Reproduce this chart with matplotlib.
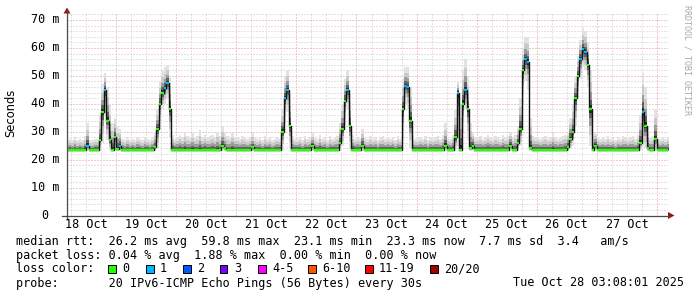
import numpy as np
import matplotlib
matplotlib.use("Agg")
import matplotlib.pyplot as plt
from matplotlib.patches import Polygon, Rectangle

# ---------------- data (hourly bins, hours after 18 Oct 00:00) ----------------
START_HOUR = 4
X_MIN, X_MAX = 4.4, 244.4

med_18 = [23.4, 23.4, 23.4, 23.4, 23.4, 23.4, 23.4, 23.5, 25.0, 23.4, 23.4, 23.4, 23.4, 27.0, 37.0, 45.0, 34.0, 27.0, 23.6, 28.0]
hi_18 = [27.0, 27.5, 27.0, 28.0, 27.0, 27.5, 27.0, 28.5, 33.0, 27.0, 27.0, 27.5, 27.5, 36.0, 47.0, 51.0, 46.0, 40.0, 33.0, 35.0]
lo_18 = [23.1, 23.1, 23.1, 23.1, 23.1, 23.1, 23.1, 23.1, 23.3, 23.1, 23.1, 23.1, 23.1, 23.4, 26.0, 36.0, 27.0, 23.5, 23.2, 24.0]

med_19 = [23.8, 25.0, 23.4, 23.4, 23.4, 23.4, 23.4, 23.4, 23.4, 23.4, 23.4, 23.4, 23.4, 23.4, 23.4, 24.5, 31.0, 40.0, 44.0, 45.5, 47.5, 38.0, 23.4, 23.4]
hi_19 = [32.0, 31.0, 27.5, 27.0, 28.0, 27.0, 27.5, 27.0, 28.0, 27.5, 27.0, 28.0, 27.5, 27.0, 28.0, 30.0, 38.0, 48.0, 52.0, 53.0, 54.0, 50.0, 29.0, 27.5]
lo_19 = [23.2, 23.3, 23.1, 23.1, 23.1, 23.1, 23.1, 23.1, 23.1, 23.1, 23.1, 23.1, 23.1, 23.1, 23.1, 23.2, 24.0, 31.0, 38.0, 40.0, 42.0, 28.0, 23.1, 23.1]

med_20 = [23.4, 23.4, 23.4, 23.4, 23.4, 23.4, 23.4, 23.4, 23.4, 23.4, 23.4, 23.4, 23.4, 23.4, 23.4, 23.4, 23.4, 23.4, 25.0, 24.0, 23.4, 23.4, 23.4, 23.4]
hi_20 = [28.0, 29.0, 28.0, 30.0, 28.5, 28.0, 29.5, 28.0, 28.5, 30.5, 28.0, 29.0, 28.0, 28.5, 29.0, 28.0, 30.0, 28.5, 32.0, 30.0, 28.5, 28.0, 29.5, 28.0]
lo_20 = [23.1, 23.1, 23.1, 23.1, 23.1, 23.1, 23.1, 23.1, 23.1, 23.1, 23.1, 23.1, 23.1, 23.1, 23.1, 23.1, 23.1, 23.1, 23.3, 23.2, 23.1, 23.1, 23.1, 23.1]

med_21 = [23.4, 23.4, 23.4, 23.4, 23.4, 23.4, 24.5, 23.4, 23.4, 23.4, 23.4, 23.4, 23.4, 23.4, 23.4, 23.4, 23.4, 23.4, 30.0, 42.0, 45.0, 32.0, 23.4, 23.4]
hi_21 = [28.0, 27.5, 28.5, 28.0, 27.5, 28.0, 29.5, 28.0, 27.5, 28.0, 27.0, 28.5, 27.5, 28.0, 27.0, 27.5, 28.0, 27.5, 38.0, 50.0, 52.0, 43.0, 28.5, 27.5]
lo_21 = [23.1, 23.1, 23.1, 23.1, 23.1, 23.1, 23.2, 23.1, 23.1, 23.1, 23.1, 23.1, 23.1, 23.1, 23.1, 23.1, 23.1, 23.1, 23.5, 33.0, 37.0, 24.0, 23.1, 23.1]

med_22 = [23.4, 23.4, 23.4, 23.4, 23.4, 23.4, 25.0, 23.4, 23.4, 23.4, 23.4, 23.4, 23.4, 23.4, 23.4, 23.4, 23.4, 26.0, 31.0, 41.0, 45.0, 32.0, 23.5, 23.4]
hi_22 = [27.5, 28.0, 27.0, 28.5, 27.5, 28.0, 29.5, 28.0, 27.5, 29.0, 27.5, 28.0, 27.0, 28.5, 27.5, 28.0, 28.5, 33.0, 40.0, 49.0, 52.0, 44.0, 29.0, 27.5]
lo_22 = [23.1, 23.1, 23.1, 23.1, 23.1, 23.1, 23.3, 23.1, 23.1, 23.1, 23.1, 23.1, 23.1, 23.1, 23.1, 23.1, 23.1, 23.4, 25.0, 32.0, 38.0, 24.0, 23.1, 23.1]

med_23 = [23.4, 23.4, 25.0, 23.4, 23.4, 23.4, 23.4, 23.4, 23.4, 23.4, 23.4, 23.4, 23.4, 23.4, 23.4, 23.4, 23.4, 23.4, 38.0, 46.5, 46.0, 34.0, 23.4, 23.4]
hi_23 = [28.0, 27.5, 31.0, 28.0, 27.5, 28.5, 27.5, 28.0, 27.0, 28.0, 28.5, 27.5, 28.0, 27.5, 28.0, 27.0, 28.5, 27.5, 49.0, 53.0, 53.0, 46.0, 28.5, 27.5]
lo_23 = [23.1, 23.1, 23.3, 23.1, 23.1, 23.1, 23.1, 23.1, 23.1, 23.1, 23.1, 23.1, 23.1, 23.1, 23.1, 23.1, 23.1, 23.1, 27.0, 40.0, 38.0, 24.0, 23.1, 23.1]

med_24 = [23.4, 23.4, 23.4, 23.4, 23.4, 23.4, 23.4, 23.4, 23.4, 23.4, 23.4, 25.0, 23.4, 23.4, 23.4, 28.0, 44.0, 23.6, 40.0, 45.0, 38.0, 24.0, 25.0, 23.4]
hi_24 = [27.5, 28.0, 27.5, 28.5, 27.0, 28.0, 27.5, 28.0, 28.5, 27.5, 29.0, 33.0, 28.0, 27.5, 29.0, 38.0, 48.0, 40.0, 52.0, 56.0, 50.0, 33.0, 30.0, 28.0]
lo_24 = [23.1, 23.1, 23.1, 23.1, 23.1, 23.1, 23.1, 23.1, 23.1, 23.1, 23.1, 23.3, 23.1, 23.1, 23.1, 23.3, 25.0, 23.2, 30.0, 38.0, 27.0, 23.2, 23.3, 23.1]

med_25 = [23.4, 23.4, 23.4, 23.4, 23.4, 23.4, 23.4, 23.4, 23.4, 23.4, 23.4, 23.4, 23.4, 25.0, 23.4, 23.4, 26.0, 31.0, 52.0, 56.0, 55.0, 24.0, 23.4, 23.4]
hi_25 = [28.0, 28.5, 27.5, 28.0, 29.0, 28.0, 27.5, 28.5, 28.0, 27.5, 29.0, 28.0, 28.5, 30.0, 28.0, 29.0, 32.0, 42.0, 60.0, 64.0, 64.0, 35.0, 28.5, 28.0]
lo_25 = [23.1, 23.1, 23.1, 23.1, 23.1, 23.1, 23.1, 23.1, 23.1, 23.1, 23.1, 23.1, 23.1, 23.3, 23.1, 23.1, 23.3, 25.0, 40.0, 48.0, 45.0, 23.2, 23.1, 23.1]

med_26 = [23.4, 23.4, 23.4, 23.4, 23.4, 23.4, 23.4, 23.4, 23.4, 23.4, 23.4, 23.4, 24.5, 27.5, 30.0, 42.0, 50.0, 56.0, 59.5, 58.5, 54.0, 38.0, 23.4, 25.0]
hi_26 = [28.0, 27.5, 28.0, 28.5, 27.5, 28.0, 29.5, 28.0, 27.5, 28.0, 28.5, 29.0, 30.0, 35.0, 40.0, 50.0, 57.0, 63.0, 67.0, 66.0, 62.0, 52.0, 29.0, 30.0]
lo_26 = [23.1, 23.1, 23.1, 23.1, 23.1, 23.1, 23.1, 23.1, 23.1, 23.1, 23.1, 23.1, 23.2, 24.0, 25.0, 32.0, 42.0, 49.0, 53.0, 52.0, 46.0, 25.0, 23.1, 23.3]

med_27 = [23.4, 23.4, 23.4, 23.4, 23.4, 23.4, 23.4, 23.4, 23.4, 23.4, 23.4, 23.4, 23.4, 23.4, 23.4, 23.4, 23.4, 26.0, 37.0, 32.0, 24.0, 23.4, 23.4, 27.5]
hi_27 = [28.0, 27.5, 28.0, 27.5, 28.5, 27.5, 28.0, 27.0, 28.0, 27.5, 28.5, 28.0, 27.5, 28.0, 28.5, 27.5, 29.0, 36.0, 51.0, 46.0, 32.0, 28.0, 28.5, 38.0]
lo_27 = [23.1, 23.1, 23.1, 23.1, 23.1, 23.1, 23.1, 23.1, 23.1, 23.1, 23.1, 23.1, 23.1, 23.1, 23.1, 23.1, 23.1, 23.3, 25.0, 24.0, 23.2, 23.1, 23.1, 23.5]

med_28 = [23.4, 23.4, 23.4, 23.4, 23.4]
hi_28 = [28.0, 27.5, 28.0, 27.5, 28.0]
lo_28 = [23.1, 23.1, 23.1, 23.1, 23.1]

loss1_hours = [12, 19, 25, 43, 44, 91, 92, 116, 139, 140, 160, 163, 187, 188, 209, 210, 211, 234]

day_labels = ["18 Oct", "19 Oct", "20 Oct", "21 Oct", "22 Oct", "23 Oct", "24 Oct", "25 Oct", "26 Oct", "27 Oct"]
y_labels = ["10 m", "20 m", "30 m", "40 m", "50 m", "60 m", "70 m"]

stats_rtt = "median rtt:  26.2 ms avg  59.8 ms max  23.1 ms min  23.3 ms now  7.7 ms sd  3.4   am/s"
stats_loss = "packet loss: 0.04 % avg  1.88 % max  0.00 % min  0.00 % now"
loss_names = ["0", "1", "2", "3", "4-5", "6-10", "11-19", "20/20"]
loss_colors = ["#26ff00", "#00b8ff", "#0059ff", "#7e00ff", "#ff00ff", "#ff5500", "#ff0000", "#a10000"]
probe_text = "probe:       20 IPv6-ICMP Echo Pings (56 Bytes) every 30s"
date_text = "Tue Oct 28 03:08:01 2025"

# ---------------- assemble ----------------
med = np.array(med_18 + med_19 + med_20 + med_21 + med_22 + med_23 + med_24 + med_25 + med_26 + med_27 + med_28)
hi = np.array(hi_18 + hi_19 + hi_20 + hi_21 + hi_22 + hi_23 + hi_24 + hi_25 + hi_26 + hi_27 + hi_28)
lo = np.array(lo_18 + lo_19 + lo_20 + lo_21 + lo_22 + lo_23 + lo_24 + lo_25 + lo_26 + lo_27 + lo_28)
assert len(med) == len(hi) == len(lo), (len(med), len(hi), len(lo))
t = START_HOUR + np.arange(len(med))
te = np.append(t, t[-1] + 1)

def ext(a):
    return np.append(a, a[-1])

W, H = 697, 297
fig = plt.figure(figsize=(W / 100, H / 100), dpi=100, facecolor="white")
L, R, B, T = 67, 668, 215.5, 13
ax = fig.add_axes([L / W, 1 - B / H, (R - L) / W, (B - T) / H])
ax.set_xlim(X_MIN, X_MAX)
ax.set_ylim(0, 72.5)
ax.axis("off")

def fx(px):
    return px / W

def fy(py):
    return 1 - py / H

# grid
minor_c = "#c8c8c8"
major_c = "#e29494"
dot = (0, (1, 2))
for v in np.arange(2, 73, 2):
    if v % 10 != 0:
        ax.axhline(v, color=minor_c, lw=0.72, ls=dot, zorder=0)
for v in range(10, 71, 10):
    ax.axhline(v, color=major_c, lw=0.72, ls=dot, zorder=0.5)
for h in np.arange(6, 245, 6):
    if h % 24 != 0:
        ax.axvline(h, color=minor_c, lw=0.72, ls=dot, zorder=0)
for h in range(24, 245, 24):
    ax.axvline(h, color=major_c, lw=0.72, ls=dot, zorder=0.5)

# smoke
fracs = [1.0, 0.7, 0.45, 0.25, 0.1]
shades = ["#e2e2e2", "#c9c9c9", "#9c9c9c", "#626262", "#262626"]
for f, c in zip(fracs, shades):
    top = med + f * (hi - med)
    bot = med - f * (med - lo)
    ax.fill_between(te, ext(bot), ext(top), step="post", color=c, lw=0, zorder=1)

# median: vertical transitions + colored bars
ax.step(te, ext(med), where="post", color="#111111", lw=1.0, zorder=2)
cols = [loss_colors[1] if int(h) in loss1_hours else loss_colors[0] for h in t]
ax.hlines(med, t, t + 1, colors=cols, lw=1.7, zorder=3)

# axes lines and arrows
axis_c = "#4a4a4a"
arrow_c = "#8e1616"
fig.add_artist(plt.Line2D([fx(62), fx(669)], [fy(B), fy(B)], color=axis_c, lw=0.9))
fig.add_artist(plt.Line2D([fx(L), fx(L)], [fy(219), fy(10)], color=axis_c, lw=0.9))
fig.add_artist(Polygon([(fx(63.5), fy(13.5)), (fx(70.5), fy(13.5)), (fx(67), fy(7.5))],
                       closed=True, color=arrow_c, lw=0))
fig.add_artist(Polygon([(fx(668), fy(212)), (fx(668), fy(219)), (fx(674.5), fy(B))],
                       closed=True, color=arrow_c, lw=0))

mono = "DejaVu Sans Mono"
fs = 8.5

# y tick labels
for i, lab in enumerate(y_labels):
    v = 10 * (i + 1)
    fig.text(fx(59.5), fy(B - v * (B - T) / 72.5), lab, ha="right", va="center",
             family=mono, fontsize=fs, color="#000000")
fig.text(fx(45), fy(B), "0", ha="center", va="center", family=mono, fontsize=fs)

# x tick labels (centered at noon)
for i, lab in enumerate(day_labels):
    h = 24 * i + 12
    px = L + (h - X_MIN) / (X_MAX - X_MIN) * (R - L)
    fig.text(fx(px), fy(224.5), lab, ha="center", va="center", family=mono, fontsize=fs)

fig.text(fx(11), fy(113), "Seconds", rotation=90, ha="center", va="center",
         family="DejaVu Sans", fontsize=8.3)
fig.text(fx(687.5), fy(60), "RRDTOOL / TOBI OETIKER", rotation=270, ha="center", va="center",
         family=mono, fontsize=6, color="#a8a8a8")

# legend lines
fig.text(fx(16), fy(241), stats_rtt, ha="left", va="center", family=mono, fontsize=fs)
fig.text(fx(16), fy(255.5), stats_loss, ha="left", va="center", family=mono, fontsize=fs)
fig.text(fx(16), fy(269), "loss color:", ha="left", va="center", family=mono, fontsize=fs)
box_x = [108, 146, 183, 220, 258, 308, 365, 430]
for bx, name, c in zip(box_x, loss_names, loss_colors):
    fig.add_artist(Rectangle((fx(bx), fy(272.5)), 7.5 / W, 7.5 / H, facecolor=c,
                             edgecolor="black", lw=0.7))
    fig.text(fx(bx + 14), fy(269), name, ha="left", va="center", family=mono, fontsize=fs)
fig.text(fx(16), fy(283), probe_text, ha="left", va="center", family=mono, fontsize=fs)
fig.text(fx(513), fy(283), date_text, ha="left", va="center", family=mono, fontsize=fs)

fig.savefig("out.png", dpi=100, facecolor="white")
